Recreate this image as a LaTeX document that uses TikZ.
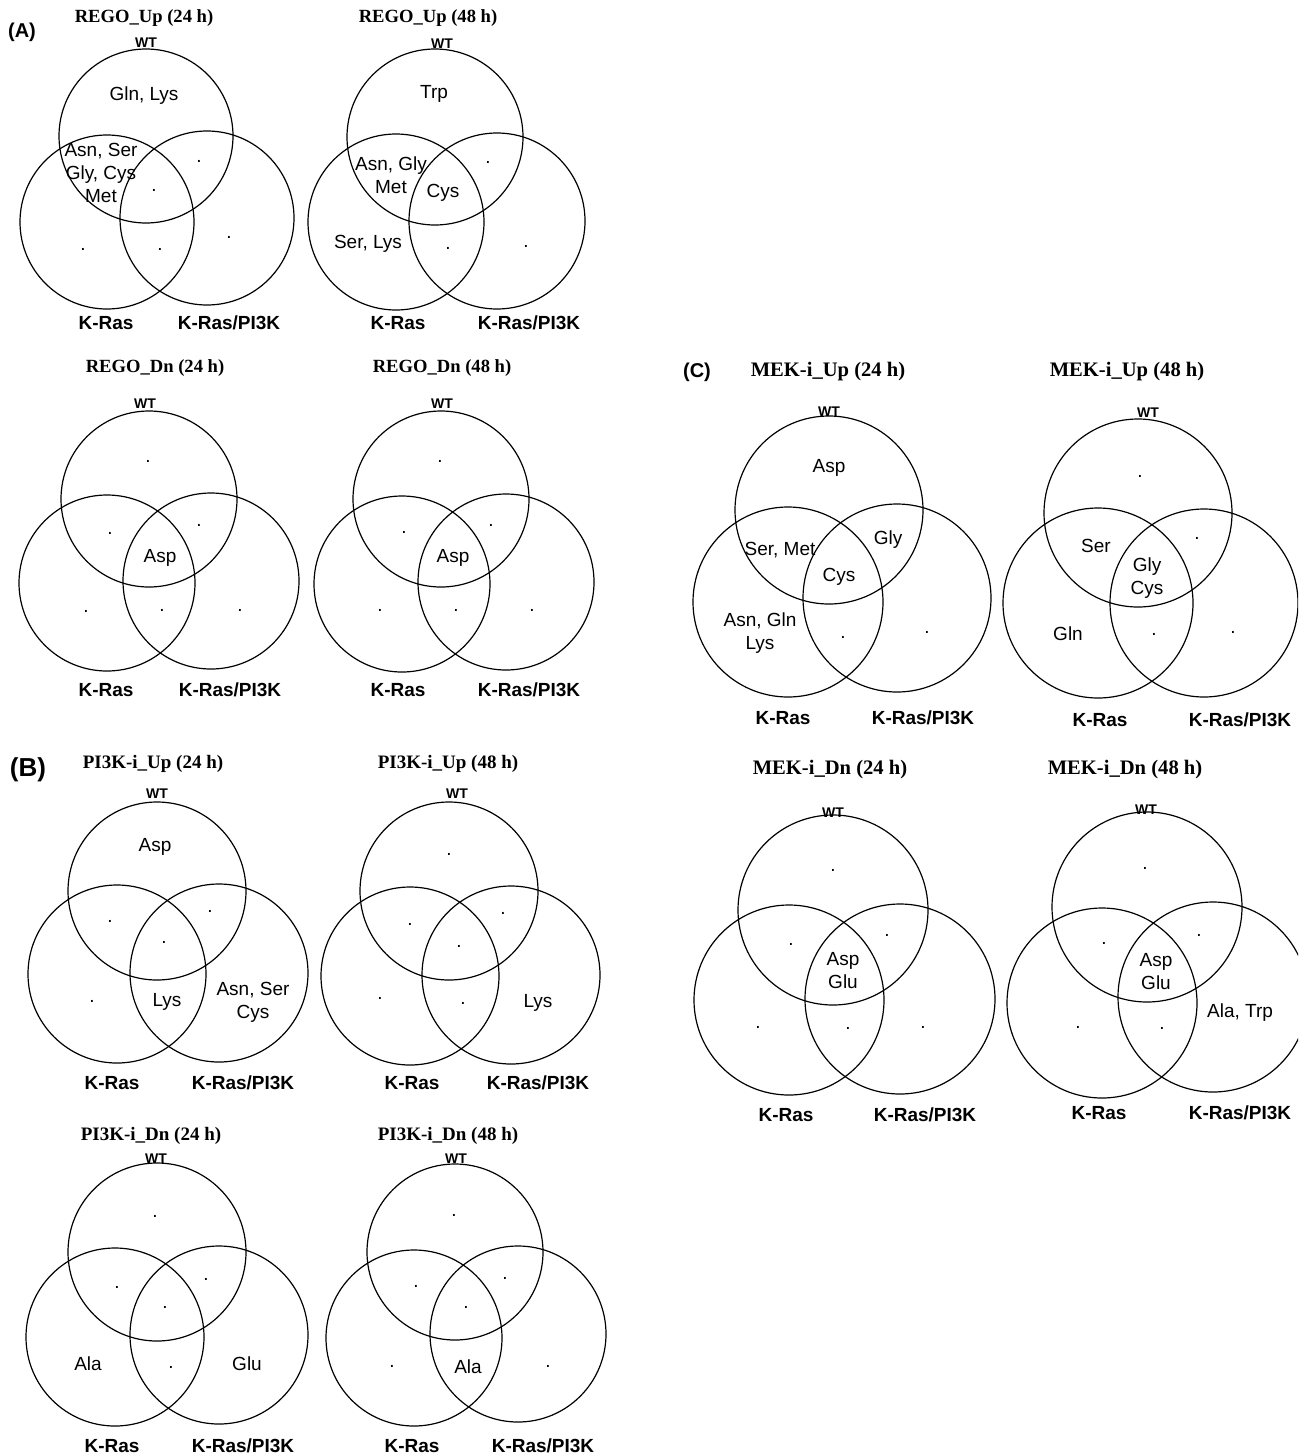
\documentclass[tikz,border=0pt]{standalone}
\usepackage{fontspec}
\setmainfont{Liberation Sans}
\newfontfamily\tmsfont{Liberation Serif}
\begin{document}
\begin{tikzpicture}[x=0.5pt,y=-0.5pt,
  vset/.style={circle, draw, line width=0.6pt, inner sep=0pt, minimum size={#1*0.5pt}},
  ttl/.style={font=\tmsfont\bfseries\fontsize{#1}{12}\selectfont, inner sep=0pt},
  lab/.style={font=\fontsize{9.5}{11.5}\selectfont, align=center, inner sep=0pt},
  dt/.style={font=\fontsize{9.5}{11}\selectfont, inner sep=0pt},
  grp/.style={font=\bfseries\fontsize{9.5}{11}\selectfont, inner sep=0pt},
  wt/.style={font=\bfseries\fontsize{7}{8}\selectfont, inner sep=0pt},
  pan/.style={font=\bfseries\fontsize{10}{12}\selectfont, inner sep=0pt}]
\useasboundingbox (0,0) rectangle (1298,1456);
\clip (0,0) rectangle (1298,1456);

% ---------- Diagram 1: REGO_Up (24 h)
\node[pan] (pA) at (22,32) {(A)};
\node[vset=174] (a1w) at (146,136) {};
\node[vset=174] (a1k) at (107,222) {};
\node[vset=174] (a1p) at (207,218) {};
\node[ttl=9.3] (a1t) at (144,18) {REGO\_Up (24 h)};
\node[wt] (a1wl) at (146,43) {WT};
\node[grp] (a1kl) at (106,323) {K-Ras};
\node[grp] (a1pl) at (229,323) {K-Ras/PI3K};
\node[lab] (a1x1) at (144,96) {Gln, Lys};
\node[lab] (a1x2) at (101,173) {Asn, Ser\\Gly, Cys\\Met};
\node[dt] (a1d1) at (199,161) {.};
\node[dt] (a1d2) at (154,190) {.};
\node[dt] (a1d3) at (83,249) {.};
\node[dt] (a1d4) at (160,249) {.};
\node[dt] (a1d5) at (229,237) {.};

% ---------- Diagram 2: REGO_Up (48 h)
\node[vset=176] (a2w) at (435,137) {};
\node[vset=176] (a2k) at (396,222) {};
\node[vset=176] (a2p) at (497,221) {};
\node[ttl=9.3] (a2t) at (428,18) {REGO\_Up (48 h)};
\node[wt] (a2wl) at (442,44) {WT};
\node[grp] (a2kl) at (398,323) {K-Ras};
\node[grp] (a2pl) at (529,323) {K-Ras/PI3K};
\node[lab] (a2x1) at (434,94) {Trp};
\node[lab] (a2x2) at (391,175) {Asn, Gly\\Met};
\node[lab] (a2x3) at (443,193) {Cys};
\node[lab] (a2x4) at (368,244) {Ser, Lys};
\node[dt] (a2d1) at (488,162) {.};
\node[dt] (a2d2) at (448,248) {.};
\node[dt] (a2d3) at (526,246) {.};

% ---------- Diagram 3: REGO_Dn (24 h)
\node[vset=176] (a3w) at (149,499) {};
\node[vset=176] (a3k) at (107,583) {};
\node[vset=176] (a3p) at (211,581) {};
\node[ttl=9.3] (a3t) at (155,368) {REGO\_Dn (24 h)};
\node[wt] (a3wl) at (145,404) {WT};
\node[grp] (a3kl) at (106,690) {K-Ras};
\node[grp] (a3pl) at (230,690) {K-Ras/PI3K};
\node[dt] (a3d1) at (148,461) {.};
\node[dt] (a3d2) at (110,533) {.};
\node[dt] (a3d3) at (199,525) {.};
\node[lab] (a3x1) at (160,558) {Asp};
\node[dt] (a3d4) at (86,611) {.};
\node[dt] (a3d5) at (162,610) {.};
\node[dt] (a3d6) at (240,610) {.};

% ---------- Diagram 4: REGO_Dn (48 h)
\node[vset=176] (a4w) at (441,499) {};
\node[vset=176] (a4k) at (402,584) {};
\node[vset=176] (a4p) at (506,582) {};
\node[ttl=9.3] (a4t) at (442,368) {REGO\_Dn (48 h)};
\node[wt] (a4wl) at (442,404) {WT};
\node[grp] (a4kl) at (398,690) {K-Ras};
\node[grp] (a4pl) at (529,690) {K-Ras/PI3K};
\node[dt] (a4d1) at (440,461) {.};
\node[dt] (a4d2) at (404,532) {.};
\node[dt] (a4d3) at (491,525) {.};
\node[lab] (a4x1) at (453,558) {Asp};
\node[dt] (a4d4) at (380,610) {.};
\node[dt] (a4d5) at (456,610) {.};
\node[dt] (a4d6) at (532,610) {.};

% ---------- Diagram 5: MEK-i_Up (24 h)
\node[pan] (pC) at (697,372) {(C)};
\node[vset=188] (c1w) at (829,510) {};
\node[vset=190] (c1k) at (788,602) {};
\node[vset=188] (c1p) at (897,598) {};
\node[ttl=10.3] (c1t) at (828,372) {MEK-i\_Up (24 h)};
\node[wt] (c1wl) at (829,412) {WT};
\node[grp] (c1kl) at (783,718) {K-Ras};
\node[grp] (c1pl) at (923,718) {K-Ras/PI3K};
\node[lab] (c1x1) at (829,468) {Asp};
\node[lab] (c1x2) at (780,550) {Ser, Met};
\node[lab] (c1x3) at (888,540) {Gly};
\node[lab] (c1x4) at (839,577) {Cys};
\node[lab] (c1x5) at (760,633) {Asn, Gln\\Lys};
\node[dt] (c1d1) at (843,637) {.};
\node[dt] (c1d2) at (927,632) {.};

% ---------- Diagram 6: MEK-i_Up (48 h)
\node[vset=188] (c2w) at (1138,513) {};
\node[vset=190] (c2k) at (1098,603) {};
\node[vset=188] (c2p) at (1204,603) {};
\node[ttl=10.3] (c2t) at (1127,372) {MEK-i\_Up (48 h)};
\node[wt] (c2wl) at (1148,413) {WT};
\node[grp] (c2kl) at (1100,720) {K-Ras};
\node[grp] (c2pl) at (1240,720) {K-Ras/PI3K};
\node[dt] (c2d1) at (1140,476) {.};
\node[lab] (c2x1) at (1096,546) {Ser};
\node[dt] (c2d2) at (1197,538) {.};
\node[lab] (c2x2) at (1147,578) {Gly\\Cys};
\node[lab] (c2x3) at (1068,634) {Gln};
\node[dt] (c2d3) at (1154,634) {.};
\node[dt] (c2d4) at (1233,632) {.};

% ---------- Diagram 7: PI3K-i_Up (24 h)
\node[font=\bfseries\fontsize{13}{15}\selectfont, inner sep=0pt] (pB) at (28,770) {(B)};
\node[vset=178] (b1w) at (157,891) {};
\node[vset=178] (b1k) at (117,974) {};
\node[vset=178] (b1p) at (219,973) {};
\node[ttl=9.5] (b1t) at (153,764) {PI3K-i\_Up (24 h)};
\node[wt] (b1wl) at (157,794) {WT};
\node[grp] (b1kl) at (112,1083) {K-Ras};
\node[grp] (b1pl) at (243,1083) {K-Ras/PI3K};
\node[lab] (b1x1) at (155,847) {Asp};
\node[dt] (b1d1) at (110,921) {.};
\node[dt] (b1d2) at (210,911) {.};
\node[dt] (b1d3) at (164,942) {.};
\node[lab] (b1x2) at (167,1002) {Lys};
\node[lab] (b1x3) at (253,1002) {Asn, Ser\\Cys};
\node[dt] (b1d4) at (92,1001) {.};

% ---------- Diagram 8: PI3K-i_Up (48 h)
\node[vset=178] (b2w) at (449,891) {};
\node[vset=178] (b2k) at (410,976) {};
\node[vset=178] (b2p) at (511,975) {};
\node[ttl=9.5] (b2t) at (448,764) {PI3K-i\_Up (48 h)};
\node[wt] (b2wl) at (457,794) {WT};
\node[grp] (b2kl) at (412,1083) {K-Ras};
\node[grp] (b2pl) at (538,1083) {K-Ras/PI3K};
\node[dt] (b2d1) at (449,854) {.};
\node[dt] (b2d2) at (410,924) {.};
\node[dt] (b2d3) at (503,913) {.};
\node[dt] (b2d4) at (459,946) {.};
\node[dt] (b2d5) at (380,998) {.};
\node[dt] (b2d6) at (463,1003) {.};
\node[lab] (b2x1) at (538,1003) {Lys};

% ---------- Diagram 9: PI3K-i_Dn (24 h)
\node[vset=178] (b3w) at (157,1252) {};
\node[vset=178] (b3k) at (115,1337) {};
\node[vset=178] (b3p) at (219,1335) {};
\node[ttl=9.5] (b3t) at (151,1136) {PI3K-i\_Dn (24 h)};
\node[wt] (b3wl) at (156,1159) {WT};
\node[grp] (b3kl) at (112,1446) {K-Ras};
\node[grp] (b3pl) at (243,1446) {K-Ras/PI3K};
\node[dt] (b3d1) at (155,1216) {.};
\node[dt] (b3d2) at (117,1287) {.};
\node[dt] (b3d3) at (206,1279) {.};
\node[dt] (b3d4) at (165,1307) {.};
\node[dt] (b3d5) at (171,1367) {.};
\node[lab] (b3x1) at (88,1364) {Ala};
\node[lab] (b3x2) at (247,1364) {Glu};

% ---------- Diagram 10: PI3K-i_Dn (48 h)
\node[vset=176] (b4w) at (455,1252) {};
\node[vset=176] (b4k) at (414,1338) {};
\node[vset=176] (b4p) at (518,1334) {};
\node[ttl=9.5] (b4t) at (448,1136) {PI3K-i\_Dn (48 h)};
\node[wt] (b4wl) at (456,1159) {WT};
\node[grp] (b4kl) at (412,1446) {K-Ras};
\node[grp] (b4pl) at (543,1446) {K-Ras/PI3K};
\node[dt] (b4d1) at (454,1215) {.};
\node[dt] (b4d2) at (416,1286) {.};
\node[dt] (b4d3) at (505,1278) {.};
\node[dt] (b4d4) at (466,1307) {.};
\node[dt] (b4d5) at (392,1366) {.};
\node[dt] (b4d6) at (548,1366) {.};
\node[lab] (b4x1) at (468,1367) {Ala};

% ---------- Diagram 11: MEK-i_Dn (24 h)
\node[vset=190] (c3w) at (833,910) {};
\node[vset=190] (c3k) at (789,1000) {};
\node[vset=190] (c3p) at (900,999) {};
\node[ttl=10.3] (c3t) at (830,770) {MEK-i\_Dn (24 h)};
\node[wt] (c3wl) at (833,813) {WT};
\node[grp] (c3kl) at (786,1115) {K-Ras};
\node[grp] (c3pl) at (925,1115) {K-Ras/PI3K};
\node[dt] (c3d1) at (833,870) {.};
\node[dt] (c3d2) at (791,944) {.};
\node[dt] (c3d3) at (887,935) {.};
\node[lab] (c3x1) at (843,971) {Asp\\Glu};
\node[dt] (c3d4) at (758,1027) {.};
\node[dt] (c3d5) at (848,1028) {.};
\node[dt] (c3d6) at (923,1027) {.};

% ---------- Diagram 12: MEK-i_Dn (48 h)
\node[vset=190] (c4w) at (1147,907) {};
\node[vset=190] (c4k) at (1102,1003) {};
\node[vset=190] (c4p) at (1213,997) {};
\node[ttl=10.3] (c4t) at (1125,770) {MEK-i\_Dn (48 h)};
\node[wt] (c4wl) at (1146,810) {WT};
\node[grp] (c4kl) at (1099,1113) {K-Ras};
\node[grp] (c4pl) at (1240,1113) {K-Ras/PI3K};
\node[dt] (c4d1) at (1145,868) {.};
\node[dt] (c4d2) at (1104,943) {.};
\node[dt] (c4d3) at (1199,935) {.};
\node[lab] (c4x1) at (1156,972) {Asp\\Glu};
\node[dt] (c4d4) at (1078,1027) {.};
\node[dt] (c4d5) at (1162,1028) {.};
\node[lab] (c4x2) at (1240,1013) {Ala, Trp};
\end{tikzpicture}
\end{document}
